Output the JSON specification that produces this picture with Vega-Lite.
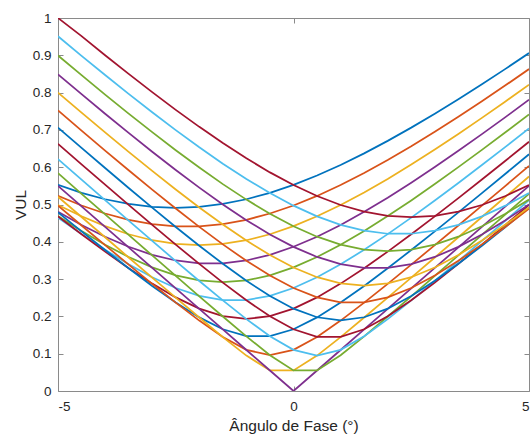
{
  "$schema": "https://vega.github.io/schema/vega-lite/v6.json",
  "width": 471,
  "height": 373,
  "autosize": "none",
  "padding": {"left": 58, "top": 18, "right": 3, "bottom": 45},
  "background": "white",
  "config": {
    "view": {"stroke": "#8a8a8a", "strokeWidth": 1},
    "font": "Liberation Sans",
    "axis": {
      "domain": false,
      "grid": false,
      "tickSize": -5,
      "tickColor": "#8a8a8a",
      "tickWidth": 1,
      "labelColor": "#262626",
      "labelFont": "Liberation Sans",
      "labelFontSize": 13.5,
      "titleColor": "#262626",
      "titleFont": "Liberation Sans",
      "titleFontSize": 15.5,
      "titleFontWeight": "normal"
    }
  },
  "data": {
    "values": [
      {"c":1,"x":-5,"y":0.5527},{"c":1,"x":-4.5,"y":0.5313},{"c":1,"x":-4,"y":0.5141},{"c":1,"x":-3.5,"y":0.5014},{"c":1,"x":-3,"y":0.4936},{"c":1,"x":-2.5,"y":0.4910},{"c":1,"x":-2,"y":0.4936},{"c":1,"x":-1.5,"y":0.5014},{"c":1,"x":-1,"y":0.5141},{"c":1,"x":-0.5,"y":0.5313},{"c":1,"x":0,"y":0.5527},{"c":1,"x":0.5,"y":0.5778},{"c":1,"x":1,"y":0.6060},{"c":1,"x":1.5,"y":0.6371},{"c":1,"x":2,"y":0.6706},{"c":1,"x":2.5,"y":0.7061},{"c":1,"x":3,"y":0.7435},{"c":1,"x":3.5,"y":0.7823},{"c":1,"x":4,"y":0.8224},{"c":1,"x":4.5,"y":0.8636},{"c":1,"x":5,"y":0.9059},
      {"c":2,"x":-5,"y":0.5230},{"c":2,"x":-4.5,"y":0.4973},{"c":2,"x":-4,"y":0.4758},{"c":2,"x":-3.5,"y":0.4590},{"c":2,"x":-3,"y":0.4474},{"c":2,"x":-2.5,"y":0.4415},{"c":2,"x":-2,"y":0.4415},{"c":2,"x":-1.5,"y":0.4474},{"c":2,"x":-1,"y":0.4590},{"c":2,"x":-0.5,"y":0.4758},{"c":2,"x":0,"y":0.4973},{"c":2,"x":0.5,"y":0.5230},{"c":2,"x":1,"y":0.5522},{"c":2,"x":1.5,"y":0.5845},{"c":2,"x":2,"y":0.6193},{"c":2,"x":2.5,"y":0.6562},{"c":2,"x":3,"y":0.6950},{"c":2,"x":3.5,"y":0.7353},{"c":2,"x":4,"y":0.7768},{"c":2,"x":4.5,"y":0.8195},{"c":2,"x":5,"y":0.8631},
      {"c":3,"x":-5,"y":0.4986},{"c":3,"x":-4.5,"y":0.4683},{"c":3,"x":-4,"y":0.4420},{"c":3,"x":-3.5,"y":0.4203},{"c":3,"x":-3,"y":0.4042},{"c":3,"x":-2.5,"y":0.3942},{"c":3,"x":-2,"y":0.3908},{"c":3,"x":-1.5,"y":0.3942},{"c":3,"x":-1,"y":0.4042},{"c":3,"x":-0.5,"y":0.4203},{"c":3,"x":0,"y":0.4420},{"c":3,"x":0.5,"y":0.4683},{"c":3,"x":1,"y":0.4986},{"c":3,"x":1.5,"y":0.5322},{"c":3,"x":2,"y":0.5684},{"c":3,"x":2.5,"y":0.6070},{"c":3,"x":3,"y":0.6473},{"c":3,"x":3.5,"y":0.6891},{"c":3,"x":4,"y":0.7322},{"c":3,"x":4.5,"y":0.7763},{"c":3,"x":5,"y":0.8213},
      {"c":4,"x":-5,"y":0.4803},{"c":4,"x":-4.5,"y":0.4452},{"c":4,"x":-4,"y":0.4137},{"c":4,"x":-3.5,"y":0.3866},{"c":4,"x":-3,"y":0.3650},{"c":4,"x":-2.5,"y":0.3499},{"c":4,"x":-2,"y":0.3421},{"c":4,"x":-1.5,"y":0.3421},{"c":4,"x":-1,"y":0.3499},{"c":4,"x":-0.5,"y":0.3650},{"c":4,"x":0,"y":0.3866},{"c":4,"x":0.5,"y":0.4137},{"c":4,"x":1,"y":0.4452},{"c":4,"x":1.5,"y":0.4803},{"c":4,"x":2,"y":0.5182},{"c":4,"x":2.5,"y":0.5585},{"c":4,"x":3,"y":0.6005},{"c":4,"x":3.5,"y":0.6440},{"c":4,"x":4,"y":0.6887},{"c":4,"x":4.5,"y":0.7343},{"c":4,"x":5,"y":0.7808},
      {"c":5,"x":-5,"y":0.4689},{"c":5,"x":-4.5,"y":0.4290},{"c":5,"x":-4,"y":0.3922},{"c":5,"x":-3.5,"y":0.3592},{"c":5,"x":-3,"y":0.3313},{"c":5,"x":-2.5,"y":0.3099},{"c":5,"x":-2,"y":0.2963},{"c":5,"x":-1.5,"y":0.2916},{"c":5,"x":-1,"y":0.2963},{"c":5,"x":-0.5,"y":0.3099},{"c":5,"x":0,"y":0.3313},{"c":5,"x":0.5,"y":0.3592},{"c":5,"x":1,"y":0.3922},{"c":5,"x":1.5,"y":0.4290},{"c":5,"x":2,"y":0.4689},{"c":5,"x":2.5,"y":0.5110},{"c":5,"x":3,"y":0.5549},{"c":5,"x":3.5,"y":0.6001},{"c":5,"x":4,"y":0.6465},{"c":5,"x":4.5,"y":0.6937},{"c":5,"x":5,"y":0.7416},
      {"c":6,"x":-5,"y":0.4648},{"c":6,"x":-4.5,"y":0.4206},{"c":6,"x":-4,"y":0.3786},{"c":6,"x":-3.5,"y":0.3396},{"c":6,"x":-3,"y":0.3050},{"c":6,"x":-2.5,"y":0.2761},{"c":6,"x":-2,"y":0.2550},{"c":6,"x":-1.5,"y":0.2438},{"c":6,"x":-1,"y":0.2438},{"c":6,"x":-0.5,"y":0.2550},{"c":6,"x":0,"y":0.2761},{"c":6,"x":0.5,"y":0.3050},{"c":6,"x":1,"y":0.3396},{"c":6,"x":1.5,"y":0.3786},{"c":6,"x":2,"y":0.4206},{"c":6,"x":2.5,"y":0.4648},{"c":6,"x":3,"y":0.5106},{"c":6,"x":3.5,"y":0.5577},{"c":6,"x":4,"y":0.6058},{"c":6,"x":4.5,"y":0.6546},{"c":6,"x":5,"y":0.7040},
      {"c":7,"x":-5,"y":0.4682},{"c":7,"x":-4.5,"y":0.4202},{"c":7,"x":-4,"y":0.3737},{"c":7,"x":-3.5,"y":0.3293},{"c":7,"x":-3,"y":0.2879},{"c":7,"x":-2.5,"y":0.2509},{"c":7,"x":-2,"y":0.2208},{"c":7,"x":-1.5,"y":0.2006},{"c":7,"x":-1,"y":0.1934},{"c":7,"x":-0.5,"y":0.2006},{"c":7,"x":0,"y":0.2208},{"c":7,"x":0.5,"y":0.2509},{"c":7,"x":1,"y":0.2879},{"c":7,"x":1.5,"y":0.3293},{"c":7,"x":2,"y":0.3737},{"c":7,"x":2.5,"y":0.4202},{"c":7,"x":3,"y":0.4682},{"c":7,"x":3.5,"y":0.5172},{"c":7,"x":4,"y":0.5670},{"c":7,"x":4.5,"y":0.6174},{"c":7,"x":5,"y":0.6682},
      {"c":8,"x":-5,"y":0.4790},{"c":8,"x":-4.5,"y":0.4281},{"c":8,"x":-4,"y":0.3780},{"c":8,"x":-3.5,"y":0.3290},{"c":8,"x":-3,"y":0.2817},{"c":8,"x":-2.5,"y":0.2373},{"c":8,"x":-2,"y":0.1974},{"c":8,"x":-1.5,"y":0.1656},{"c":8,"x":-1,"y":0.1471},{"c":8,"x":-0.5,"y":0.1471},{"c":8,"x":0,"y":0.1656},{"c":8,"x":0.5,"y":0.1974},{"c":8,"x":1,"y":0.2373},{"c":8,"x":1.5,"y":0.2817},{"c":8,"x":2,"y":0.3290},{"c":8,"x":2.5,"y":0.3780},{"c":8,"x":3,"y":0.4281},{"c":8,"x":3.5,"y":0.4790},{"c":8,"x":4,"y":0.5305},{"c":8,"x":4.5,"y":0.5824},{"c":8,"x":5,"y":0.6346},
      {"c":9,"x":-5,"y":0.4968},{"c":9,"x":-4.5,"y":0.4437},{"c":9,"x":-4,"y":0.3911},{"c":9,"x":-3.5,"y":0.3388},{"c":9,"x":-3,"y":0.2873},{"c":9,"x":-2.5,"y":0.2370},{"c":9,"x":-2,"y":0.1888},{"c":9,"x":-1.5,"y":0.1449},{"c":9,"x":-1,"y":0.1104},{"c":9,"x":-0.5,"y":0.0962},{"c":9,"x":0,"y":0.1104},{"c":9,"x":0.5,"y":0.1449},{"c":9,"x":1,"y":0.1888},{"c":9,"x":1.5,"y":0.2370},{"c":9,"x":2,"y":0.2873},{"c":9,"x":2.5,"y":0.3388},{"c":9,"x":3,"y":0.3911},{"c":9,"x":3.5,"y":0.4437},{"c":9,"x":4,"y":0.4968},{"c":9,"x":4.5,"y":0.5500},{"c":9,"x":5,"y":0.6034},
      {"c":10,"x":-5,"y":0.5207},{"c":10,"x":-4.5,"y":0.4664},{"c":10,"x":-4,"y":0.4121},{"c":10,"x":-3.5,"y":0.3580},{"c":10,"x":-3,"y":0.3040},{"c":10,"x":-2.5,"y":0.2502},{"c":10,"x":-2,"y":0.1970},{"c":10,"x":-1.5,"y":0.1446},{"c":10,"x":-1,"y":0.0949},{"c":10,"x":-0.5,"y":0.0552},{"c":10,"x":0,"y":0.0552},{"c":10,"x":0.5,"y":0.0949},{"c":10,"x":1,"y":0.1446},{"c":10,"x":1.5,"y":0.1970},{"c":10,"x":2,"y":0.2502},{"c":10,"x":2.5,"y":0.3040},{"c":10,"x":3,"y":0.3580},{"c":10,"x":3.5,"y":0.4121},{"c":10,"x":4,"y":0.4664},{"c":10,"x":4.5,"y":0.5207},{"c":10,"x":5,"y":0.5750},
      {"c":11,"x":-5,"y":0.55},{"c":11,"x":-4.5,"y":0.495},{"c":11,"x":-4,"y":0.44},{"c":11,"x":-3.5,"y":0.385},{"c":11,"x":-3,"y":0.33},{"c":11,"x":-2.5,"y":0.275},{"c":11,"x":-2,"y":0.22},{"c":11,"x":-1.5,"y":0.165},{"c":11,"x":-1,"y":0.11},{"c":11,"x":-0.5,"y":0.055},{"c":11,"x":0,"y":0},{"c":11,"x":0.5,"y":0.055},{"c":11,"x":1,"y":0.11},{"c":11,"x":1.5,"y":0.165},{"c":11,"x":2,"y":0.22},{"c":11,"x":2.5,"y":0.275},{"c":11,"x":3,"y":0.33},{"c":11,"x":3.5,"y":0.385},{"c":11,"x":4,"y":0.44},{"c":11,"x":4.5,"y":0.495},{"c":11,"x":5,"y":0.55},
      {"c":12,"x":-5,"y":0.5839},{"c":12,"x":-4.5,"y":0.5287},{"c":12,"x":-4,"y":0.4735},{"c":12,"x":-3.5,"y":0.4184},{"c":12,"x":-3,"y":0.3634},{"c":12,"x":-2.5,"y":0.3086},{"c":12,"x":-2,"y":0.2539},{"c":12,"x":-1.5,"y":0.1998},{"c":12,"x":-1,"y":0.1466},{"c":12,"x":-0.5,"y":0.0959},{"c":12,"x":0,"y":0.0552},{"c":12,"x":0.5,"y":0.0552},{"c":12,"x":1,"y":0.0959},{"c":12,"x":1.5,"y":0.1466},{"c":12,"x":2,"y":0.1998},{"c":12,"x":2.5,"y":0.2539},{"c":12,"x":3,"y":0.3086},{"c":12,"x":3.5,"y":0.3634},{"c":12,"x":4,"y":0.4184},{"c":12,"x":4.5,"y":0.4735},{"c":12,"x":5,"y":0.5287},
      {"c":13,"x":-5,"y":0.6217},{"c":13,"x":-4.5,"y":0.5666},{"c":13,"x":-4,"y":0.5116},{"c":13,"x":-3.5,"y":0.4568},{"c":13,"x":-3,"y":0.4024},{"c":13,"x":-2.5,"y":0.3484},{"c":13,"x":-2,"y":0.2950},{"c":13,"x":-1.5,"y":0.2428},{"c":13,"x":-1,"y":0.1927},{"c":13,"x":-0.5,"y":0.1468},{"c":13,"x":0,"y":0.1104},{"c":13,"x":0.5,"y":0.0952},{"c":13,"x":1,"y":0.1104},{"c":13,"x":1.5,"y":0.1468},{"c":13,"x":2,"y":0.1927},{"c":13,"x":2.5,"y":0.2428},{"c":13,"x":3,"y":0.2950},{"c":13,"x":3.5,"y":0.3484},{"c":13,"x":4,"y":0.4024},{"c":13,"x":4.5,"y":0.4568},{"c":13,"x":5,"y":0.5116},
      {"c":14,"x":-5,"y":0.6627},{"c":14,"x":-4.5,"y":0.6078},{"c":14,"x":-4,"y":0.5533},{"c":14,"x":-3.5,"y":0.4991},{"c":14,"x":-3,"y":0.4455},{"c":14,"x":-2.5,"y":0.3925},{"c":14,"x":-2,"y":0.3407},{"c":14,"x":-1.5,"y":0.2906},{"c":14,"x":-1,"y":0.2431},{"c":14,"x":-0.5,"y":0.2002},{"c":14,"x":0,"y":0.1656},{"c":14,"x":0.5,"y":0.1452},{"c":14,"x":1,"y":0.1452},{"c":14,"x":1.5,"y":0.1656},{"c":14,"x":2,"y":0.2002},{"c":14,"x":2.5,"y":0.2431},{"c":14,"x":3,"y":0.2906},{"c":14,"x":3.5,"y":0.3407},{"c":14,"x":4,"y":0.3925},{"c":14,"x":4.5,"y":0.4455},{"c":14,"x":5,"y":0.4991},
      {"c":15,"x":-5,"y":0.7063},{"c":15,"x":-4.5,"y":0.6518},{"c":15,"x":-4,"y":0.5978},{"c":15,"x":-3.5,"y":0.5443},{"c":15,"x":-3,"y":0.4916},{"c":15,"x":-2.5,"y":0.4398},{"c":15,"x":-2,"y":0.3894},{"c":15,"x":-1.5,"y":0.3410},{"c":15,"x":-1,"y":0.2955},{"c":15,"x":-0.5,"y":0.2546},{"c":15,"x":0,"y":0.2207},{"c":15,"x":0.5,"y":0.1977},{"c":15,"x":1,"y":0.1894},{"c":15,"x":1.5,"y":0.1977},{"c":15,"x":2,"y":0.2207},{"c":15,"x":2.5,"y":0.2546},{"c":15,"x":3,"y":0.2955},{"c":15,"x":3.5,"y":0.3410},{"c":15,"x":4,"y":0.3894},{"c":15,"x":4.5,"y":0.4398},{"c":15,"x":5,"y":0.4916},
      {"c":16,"x":-5,"y":0.7521},{"c":16,"x":-4.5,"y":0.6981},{"c":16,"x":-4,"y":0.6446},{"c":16,"x":-3.5,"y":0.5918},{"c":16,"x":-3,"y":0.5399},{"c":16,"x":-2.5,"y":0.4892},{"c":16,"x":-2,"y":0.4400},{"c":16,"x":-1.5,"y":0.3930},{"c":16,"x":-1,"y":0.3491},{"c":16,"x":-0.5,"y":0.3094},{"c":16,"x":0,"y":0.2760},{"c":16,"x":0.5,"y":0.2512},{"c":16,"x":1,"y":0.2378},{"c":16,"x":1.5,"y":0.2378},{"c":16,"x":2,"y":0.2512},{"c":16,"x":2.5,"y":0.2760},{"c":16,"x":3,"y":0.3094},{"c":16,"x":3.5,"y":0.3491},{"c":16,"x":4,"y":0.3930},{"c":16,"x":4.5,"y":0.4400},{"c":16,"x":5,"y":0.4892},
      {"c":17,"x":-5,"y":0.7998},{"c":17,"x":-4.5,"y":0.7462},{"c":17,"x":-4,"y":0.6933},{"c":17,"x":-3.5,"y":0.6411},{"c":17,"x":-3,"y":0.5900},{"c":17,"x":-2.5,"y":0.5402},{"c":17,"x":-2,"y":0.4921},{"c":17,"x":-1.5,"y":0.4462},{"c":17,"x":-1,"y":0.4033},{"c":17,"x":-0.5,"y":0.3645},{"c":17,"x":0,"y":0.3312},{"c":17,"x":0.5,"y":0.3051},{"c":17,"x":1,"y":0.2884},{"c":17,"x":1.5,"y":0.2826},{"c":17,"x":2,"y":0.2884},{"c":17,"x":2.5,"y":0.3051},{"c":17,"x":3,"y":0.3312},{"c":17,"x":3.5,"y":0.3645},{"c":17,"x":4,"y":0.4033},{"c":17,"x":4.5,"y":0.4462},{"c":17,"x":5,"y":0.4921},
      {"c":18,"x":-5,"y":0.8489},{"c":18,"x":-4.5,"y":0.7958},{"c":18,"x":-4,"y":0.7434},{"c":18,"x":-3.5,"y":0.6919},{"c":18,"x":-3,"y":0.6414},{"c":18,"x":-2.5,"y":0.5924},{"c":18,"x":-2,"y":0.5452},{"c":18,"x":-1.5,"y":0.5001},{"c":18,"x":-1,"y":0.4580},{"c":18,"x":-0.5,"y":0.4198},{"c":18,"x":0,"y":0.3864},{"c":18,"x":0.5,"y":0.3594},{"c":18,"x":1,"y":0.3401},{"c":18,"x":1.5,"y":0.3301},{"c":18,"x":2,"y":0.3301},{"c":18,"x":2.5,"y":0.3401},{"c":18,"x":3,"y":0.3594},{"c":18,"x":3.5,"y":0.3864},{"c":18,"x":4,"y":0.4198},{"c":18,"x":4.5,"y":0.4580},{"c":18,"x":5,"y":0.5001},
      {"c":19,"x":-5,"y":0.8994},{"c":19,"x":-4.5,"y":0.8467},{"c":19,"x":-4,"y":0.7947},{"c":19,"x":-3.5,"y":0.7437},{"c":19,"x":-3,"y":0.6939},{"c":19,"x":-2.5,"y":0.6455},{"c":19,"x":-2,"y":0.5990},{"c":19,"x":-1.5,"y":0.5546},{"c":19,"x":-1,"y":0.5131},{"c":19,"x":-0.5,"y":0.4751},{"c":19,"x":0,"y":0.4416},{"c":19,"x":0.5,"y":0.4137},{"c":19,"x":1,"y":0.3926},{"c":19,"x":1.5,"y":0.3793},{"c":19,"x":2,"y":0.3748},{"c":19,"x":2.5,"y":0.3793},{"c":19,"x":3,"y":0.3926},{"c":19,"x":3.5,"y":0.4137},{"c":19,"x":4,"y":0.4416},{"c":19,"x":4.5,"y":0.4751},{"c":19,"x":5,"y":0.5131},
      {"c":20,"x":-5,"y":0.9510},{"c":20,"x":-4.5,"y":0.8986},{"c":20,"x":-4,"y":0.8471},{"c":20,"x":-3.5,"y":0.7966},{"c":20,"x":-3,"y":0.7472},{"c":20,"x":-2.5,"y":0.6994},{"c":20,"x":-2,"y":0.6533},{"c":20,"x":-1.5,"y":0.6095},{"c":20,"x":-1,"y":0.5684},{"c":20,"x":-0.5,"y":0.5306},{"c":20,"x":0,"y":0.4969},{"c":20,"x":0.5,"y":0.4682},{"c":20,"x":1,"y":0.4455},{"c":20,"x":1.5,"y":0.4297},{"c":20,"x":2,"y":0.4216},{"c":20,"x":2.5,"y":0.4216},{"c":20,"x":3,"y":0.4297},{"c":20,"x":3.5,"y":0.4455},{"c":20,"x":4,"y":0.4682},{"c":20,"x":4.5,"y":0.4969},{"c":20,"x":5,"y":0.5306},
      {"c":21,"x":-5,"y":1.0},{"c":21,"x":-4.5,"y":0.9514},{"c":21,"x":-4,"y":0.9002},{"c":21,"x":-3.5,"y":0.8501},{"c":21,"x":-3,"y":0.8012},{"c":21,"x":-2.5,"y":0.7538},{"c":21,"x":-2,"y":0.7082},{"c":21,"x":-1.5,"y":0.6647},{"c":21,"x":-1,"y":0.6238},{"c":21,"x":-0.5,"y":0.5861},{"c":21,"x":0,"y":0.5522},{"c":21,"x":0.5,"y":0.5228},{"c":21,"x":1,"y":0.4987},{"c":21,"x":1.5,"y":0.4808},{"c":21,"x":2,"y":0.4698},{"c":21,"x":2.5,"y":0.4660},{"c":21,"x":3,"y":0.4698},{"c":21,"x":3.5,"y":0.4808},{"c":21,"x":4,"y":0.4987},{"c":21,"x":4.5,"y":0.5228},{"c":21,"x":5,"y":0.5522}
    ]
  },
  "layer": [
    {
      "mark": {"type": "line", "strokeWidth": 1.75, "clip": true},
      "encoding": {
        "x": {
          "field": "x", "type": "quantitative",
          "scale": {"domain": [-5, 5], "nice": false, "zero": false},
          "axis": {
            "orient": "bottom", "values": [-5, 0, 5],
            "labelExpr": "'' + datum.value", "labelPadding": 13,
            "title": "Ângulo de Fase (°)",
            "titleY": 34, "titleBaseline": "middle"
          }
        },
        "y": {
          "field": "y", "type": "quantitative",
          "scale": {"domain": [0, 1], "nice": false},
          "axis": {
            "orient": "left",
            "values": [0, 0.1, 0.2, 0.3, 0.4, 0.5, 0.6, 0.7, 0.8, 0.9, 1],
            "labelExpr": "'' + datum.value", "labelPadding": 12,
            "title": "VUL",
            "titleX": -38, "titleY": 186.5, "titleAngle": 270,
            "titleAlign": "center", "titleBaseline": "middle"
          }
        },
        "color": {
          "field": "c", "type": "ordinal",
          "scale": {
            "domain": [1,2,3,4,5,6,7,8,9,10,11,12,13,14,15,16,17,18,19,20,21],
            "range": ["#0072BD","#D95319","#EDB120","#7E2F8E","#77AC30","#4DBEEE","#A2142F",
                      "#0072BD","#D95319","#EDB120","#7E2F8E","#77AC30","#4DBEEE","#A2142F",
                      "#0072BD","#D95319","#EDB120","#7E2F8E","#77AC30","#4DBEEE","#A2142F"]
          },
          "legend": null
        }
      }
    },
    {
      "mark": {"type": "point", "opacity": 0},
      "encoding": {
        "x": {
          "field": "x", "type": "quantitative",
          "axis": {"orient": "top", "values": [-5, 0, 5], "labels": false, "title": null}
        },
        "y": {
          "field": "y", "type": "quantitative",
          "axis": {"orient": "right", "values": [0, 0.1, 0.2, 0.3, 0.4, 0.5, 0.6, 0.7, 0.8, 0.9, 1], "labels": false, "title": null}
        }
      }
    }
  ],
  "resolve": {"axis": {"x": "independent", "y": "independent"}}
}
